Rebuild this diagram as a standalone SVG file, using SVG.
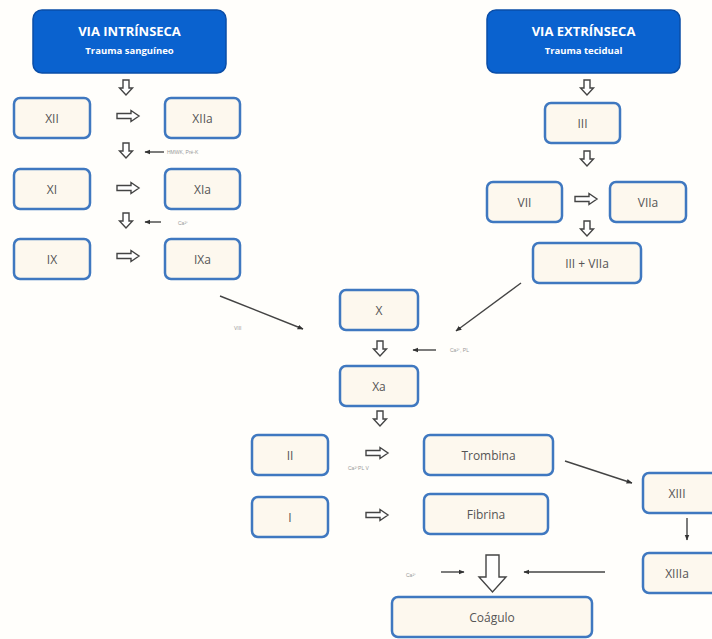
<svg xmlns="http://www.w3.org/2000/svg" xmlns:xlink="http://www.w3.org/1999/xlink" width="712" height="639" viewBox="0 0 712 639">
<style>
.hdr{fill:#0a62cf;stroke:#0a4ea8;stroke-width:1.5}
.ht{font-family:"Open Sans","Liberation Sans",sans-serif;font-weight:bold;fill:#fff;text-anchor:middle}
.box{fill:#fdf8ee;stroke:#3f78c0;stroke-width:2.5}
.bt{font-family:"Open Sans","Liberation Sans",sans-serif;font-size:12px;fill:#555;text-anchor:middle;dominant-baseline:central}
.hol{fill:#fff;stroke:#444;stroke-width:1.4;stroke-linejoin:miter}
.ln{stroke:#444;stroke-width:1.4;fill:none}
.sm{font-family:"Liberation Sans",sans-serif;font-size:5px;fill:#999}
</style>
<defs>
<marker id="ah" viewBox="0 0 10 10" refX="9" refY="5" markerWidth="6" markerHeight="6" orient="auto" markerUnits="userSpaceOnUse">
<path d="M0,1 L10,5 L0,9 z" fill="#333"/>
</marker>
<path id="dn" class="hol" d="M-3,0 h6 v8 h3.5 l-6.5,7 l-6.5,-7 h3.5 z"/>
<path id="rt" class="hol" d="M0,-2.5 h14 v-3 l8,5.5 l-8,5.5 v-3 h-14 z"/>
</defs>
<rect width="712" height="639" fill="#fffefb"/>

<g id="via-intrinseca">
<rect class="hdr" x="33" y="10" width="193" height="63" rx="9"/>
<text class="ht" x="129.5" y="36" font-size="13">VIA INTRÍNSECA</text>
<text class="ht" x="129.5" y="54" font-size="9.5">Trauma sanguíneo</text>
</g>
<g id="via-extrinseca">
<rect class="hdr" x="487" y="10" width="193" height="63" rx="9"/>
<text class="ht" x="583.5" y="36" font-size="13">VIA EXTRÍNSECA</text>
<text class="ht" x="583.5" y="54" font-size="9.5">Trauma tecidual</text>
</g>

<g id="XII"><rect class="box" x="14" y="98" width="76" height="40" rx="6"/><text class="bt" x="52" y="118">XII</text></g>
<g id="XIIa"><rect class="box" x="165" y="98" width="75" height="40" rx="6"/><text class="bt" x="202.5" y="118">XIIa</text></g>
<g id="XI"><rect class="box" x="14" y="169" width="76" height="40" rx="6"/><text class="bt" x="52" y="189">XI</text></g>
<g id="XIa"><rect class="box" x="165" y="169" width="75" height="40" rx="6"/><text class="bt" x="202.5" y="189">XIa</text></g>
<g id="IX"><rect class="box" x="14" y="239" width="76" height="40" rx="6"/><text class="bt" x="52" y="259">IX</text></g>
<g id="IXa"><rect class="box" x="165" y="239" width="75" height="40" rx="6"/><text class="bt" x="202.5" y="259">IXa</text></g>

<g id="III"><rect class="box" x="545" y="103" width="75" height="40" rx="6"/><text class="bt" x="582.5" y="123">III</text></g>
<g id="VII"><rect class="box" x="487" y="182" width="75" height="40" rx="6"/><text class="bt" x="524.5" y="202">VII</text></g>
<g id="VIIa"><rect class="box" x="610" y="182" width="76" height="40" rx="6"/><text class="bt" x="648" y="202">VIIa</text></g>
<g id="III-VIIa"><rect class="box" x="533" y="243" width="108" height="40" rx="6"/><text class="bt" x="587" y="263">III + VIIa</text></g>

<g id="X"><rect class="box" x="340" y="290" width="78" height="40" rx="6"/><text class="bt" x="379" y="310">X</text></g>
<g id="Xa"><rect class="box" x="340" y="366" width="78" height="40" rx="6"/><text class="bt" x="379" y="386">Xa</text></g>
<g id="II"><rect class="box" x="252" y="435" width="76" height="40" rx="6"/><text class="bt" x="290" y="455">II</text></g>
<g id="Trombina"><rect class="box" x="424" y="435" width="129" height="40" rx="6"/><text class="bt" x="488.5" y="455">Trombina</text></g>
<g id="I"><rect class="box" x="252" y="497" width="76" height="40" rx="6"/><text class="bt" x="290" y="517">I</text></g>
<g id="Fibrina"><rect class="box" x="424" y="494" width="124" height="40" rx="6"/><text class="bt" x="486" y="514">Fibrina</text></g>
<g id="XIII"><rect class="box" x="643" y="473" width="75" height="40" rx="6"/><text class="bt" x="677" y="493">XIII</text></g>
<g id="XIIIa"><rect class="box" x="643" y="553" width="75" height="40" rx="6"/><text class="bt" x="677" y="573">XIIIa</text></g>
<g id="Coagulo"><rect class="box" x="392" y="597" width="200" height="40" rx="6"/><text class="bt" x="492" y="617">Coágulo</text></g>

<g id="connectors">
<use xlink:href="#dn" x="126" y="80"/>
<use xlink:href="#rt" x="117" y="116"/>
<use xlink:href="#dn" x="126" y="143"/>
<line class="ln" x1="164" y1="152" x2="145" y2="152" marker-end="url(#ah)"/>
<text class="sm" x="167" y="154">HMWK, Pré-K</text>
<use xlink:href="#rt" x="117" y="188"/>
<use xlink:href="#dn" x="126" y="213"/>
<line class="ln" x1="161" y1="222" x2="145" y2="222" marker-end="url(#ah)"/>
<text class="sm" x="178" y="225">Ca²⁺</text>
<use xlink:href="#rt" x="117" y="256"/>

<use xlink:href="#dn" x="587" y="80"/>
<use xlink:href="#dn" x="587" y="151"/>
<use xlink:href="#rt" x="575" y="199"/>
<use xlink:href="#dn" x="587" y="221"/>

<line class="ln" x1="220" y1="296" x2="303" y2="329" marker-end="url(#ah)"/>
<text class="sm" x="234" y="330">VIII</text>
<line class="ln" x1="521" y1="283" x2="456" y2="331" marker-end="url(#ah)"/>

<use xlink:href="#dn" x="380" y="341"/>
<line class="ln" x1="436" y1="350" x2="413" y2="350" marker-end="url(#ah)"/>
<text class="sm" x="450" y="352">Ca²⁺, PL</text>
<use xlink:href="#dn" x="380" y="411"/>

<use xlink:href="#rt" x="366" y="453"/>
<text class="sm" x="348" y="470">Ca²⁺PL V</text>
<use xlink:href="#rt" x="366" y="515"/>

<line class="ln" x1="565" y1="461" x2="632" y2="483" marker-end="url(#ah)"/>
<line class="ln" x1="687" y1="518" x2="687" y2="540" marker-end="url(#ah)"/>

<path class="hol" d="M486,555 h13 v22 h7 l-13.5,15 l-13.5,-15 h7 z"/>
<line class="ln" x1="605" y1="572" x2="524" y2="572" marker-end="url(#ah)"/>
<text class="sm" x="406" y="577">Ca²⁺</text>
<line class="ln" x1="441" y1="572" x2="464" y2="572" marker-end="url(#ah)"/>
</g>
</svg>
